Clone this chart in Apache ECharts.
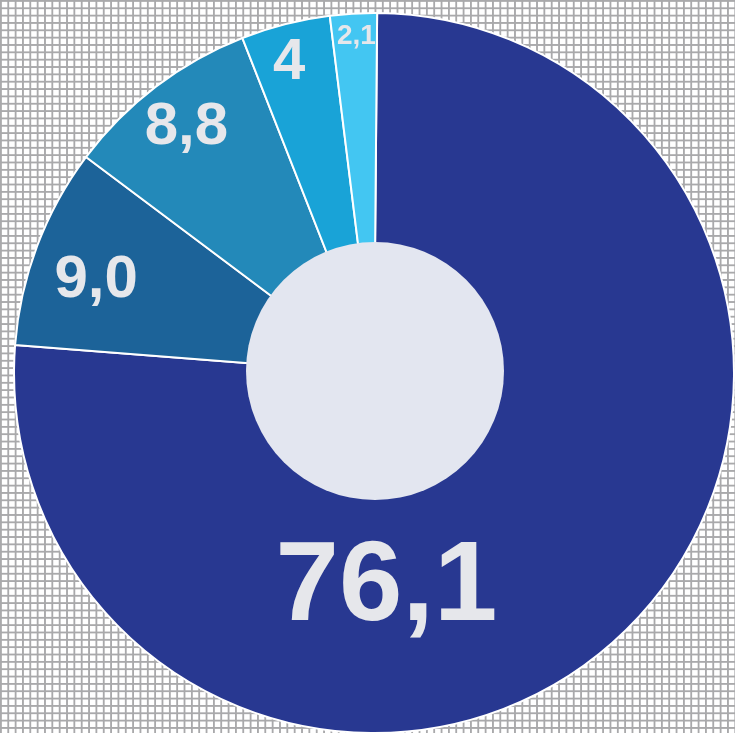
<!DOCTYPE html>
<html>
<head>
<meta charset="utf-8">
<script src="https://cdn.jsdelivr.net/npm/echarts@6/dist/echarts.min.js"></script>
<style>
  html, body { margin: 0; padding: 0; }
  body {
    width: 735px; height: 733px; overflow: hidden;
    background-color: #ffffff;
    background-image:
      linear-gradient(to right, #a9a9ab 1.6px, transparent 1.6px),
      linear-gradient(to bottom, #a9a9ab 1.6px, transparent 1.6px);
    background-size: 7.35px 7.35px;
  }
  #chart { width: 735px; height: 733px; }
</style>
</head>
<body>
<div id="chart"></div>
<script>
// Data
var categories = ['A', 'B', 'C', 'D', 'E'];
var values = [76.1, 9.0, 8.8, 4, 2.1];
var valueLabels = ['76,1', '9,0', '8,8', '4', '2,1'];

// Styles
var sliceColors = ['#283891', '#1c6399', '#2389b9', '#19a3d7', '#43c6f2'];
var labelSizes = [114, 60, 60, 58, 28];
// label placement: [angle clockwise from top (deg), radius fraction of outer radius]
var labelPlace = [[176.7, 0.6], [288.5, 0.814], [322.6, 0.858], [344.7, 0.894], [357.0, 0.937]];

var cx = 374, cy = 373, R = 360, holeR = 129;

var chart = echarts.init(document.getElementById('chart'), null, { renderer: 'canvas' });

var data = values.map(function (v, i) {
  return {
    name: categories[i],
    value: v,
    itemStyle: { color: sliceColors[i] },
    label: { formatter: valueLabels[i], fontSize: labelSizes[i] }
  };
});

chart.setOption({
  backgroundColor: 'transparent',
  animation: false,
  series: [
    {
      type: 'pie',
      center: [cx, cy],
      radius: [0, R],
      startAngle: 89.5,
      clockwise: true,
      silent: true,
      data: data,
      itemStyle: { borderColor: '#ffffff', borderWidth: 2 },
      label: {
        show: true,
        position: 'inside',
        color: '#e6e7eb',
        fontFamily: 'Liberation Sans, Arial, sans-serif',
        fontWeight: 'bold'
      },
      labelLine: { show: false },
      labelLayout: function (params) {
        var p = labelPlace[params.dataIndex];
        var a = p[0] * Math.PI / 180;
        var r = p[1] * R;
        return {
          x: cx + r * Math.sin(a),
          y: cy - r * Math.cos(a),
          align: 'center',
          verticalAlign: 'middle'
        };
      }
    },
    {
      type: 'pie',
      center: [cx + 1, cy - 2],
      radius: [0, holeR],
      silent: true,
      label: { show: false },
      labelLine: { show: false },
      itemStyle: { color: '#e3e6f0' },
      data: [{ name: 'hole', value: 1 }]
    }
  ]
});
</script>
</body>
</html>
